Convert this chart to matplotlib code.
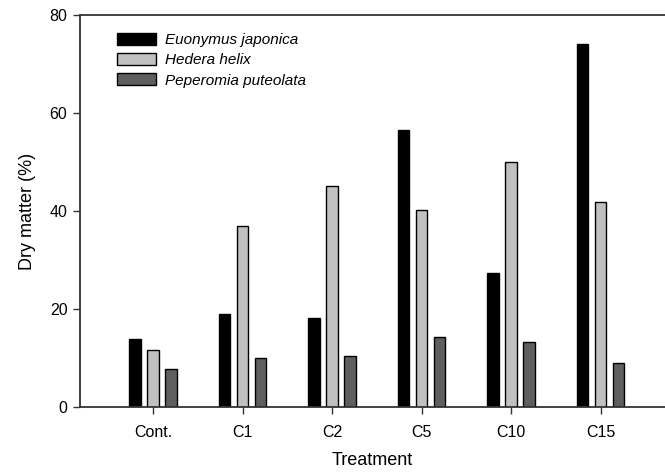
import matplotlib
matplotlib.use("Agg")
import matplotlib.pyplot as plt
import numpy as np

plt.rcParams['font.family'] = ['Liberation Sans', 'DejaVu Sans']

treatments = ["Cont.", "C1", "C2", "C5", "C10", "C15"]
euonymus = [13.9, 19.1, 18.3, 56.5, 27.3, 74.2]
hedera = [11.6, 37.0, 45.2, 40.3, 50.1, 41.9]
peperomia = [7.9, 10.1, 10.5, 14.4, 13.3, 9.0]

series = [
    ("Euonymus japonica", euonymus, "#000000"),
    ("Hedera helix", hedera, "#c0c0c0"),
    ("Peperomia puteolata", peperomia, "#5f5f5f"),
]

fig = plt.figure(figsize=(6.65, 4.72), dpi=100)
ax = fig.add_axes([0.1203, 0.137, 0.8797, 0.831])

x = np.arange(len(treatments))
width = 0.13
offsets = [-0.2, 0.0, 0.2]
for (name, vals, color), off in zip(series, offsets):
    ax.bar(x + off, vals, width=width, color=color, edgecolor="#000000",
           linewidth=1.0, label=name)

ax.set_xlim(-0.816, 5.72)
ax.set_ylim(0, 80)
ax.set_yticks([0, 20, 40, 60, 80])
ax.set_xticks(x)
ax.set_xticklabels(treatments)
ax.tick_params(axis="both", labelsize=11.5, length=5, width=1, color="#333333", direction="out")
ax.tick_params(axis="y", pad=4)
ax.tick_params(axis="x", pad=8)

for side in ["left", "top", "bottom"]:
    ax.spines[side].set_color("#333333")
    ax.spines[side].set_linewidth(1.3)
ax.spines["right"].set_visible(False)

ax.set_xlabel("Treatment", fontsize=13, labelpad=8)
ax.set_ylabel("Dry matter (%)", fontsize=13, labelpad=10)

leg = ax.legend(loc="upper left", bbox_to_anchor=(0.04, 0.99), frameon=False,
                prop={"style": "italic", "size": 11}, handlelength=2.55,
                handleheight=0.85, labelspacing=0.38, handletextpad=0.55)

fig.savefig("out.png", dpi=100)
